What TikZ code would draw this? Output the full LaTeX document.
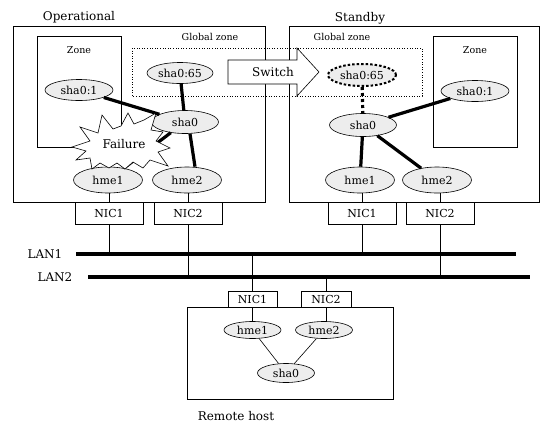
\documentclass[tikz,border=0pt]{standalone}
\usepackage{fontspec}
\setmainfont{DejaVu Serif}
\usetikzlibrary{shapes.geometric}

\begin{document}
\begin{tikzpicture}[x=1pt, y=-1pt, line width=0.6pt,
    every node/.style={font=\fontsize{11}{13}\selectfont},
    iface/.style={ellipse, draw, fill=black!7, inner sep=0pt,
        minimum width=67pt, minimum height=23pt},
    hface/.style={iface, minimum width=69pt, minimum height=26pt},
    rface/.style={ellipse, draw, fill=black!7, inner sep=0pt,
        minimum width=57pt, minimum height=17pt},
    nicbox/.style={draw, fill=white, inner sep=0pt,
        minimum width=68pt, minimum height=22pt},
    rnicbox/.style={draw, fill=white, inner sep=0pt,
        minimum width=49pt, minimum height=16pt},
    biglink/.style={line width=3.2pt},
    lan/.style={line width=4pt},
    tag/.style={font=\fontsize{12}{14}\selectfont},
    smalltag/.style={font=\fontsize{9.5}{11}\selectfont}]
    \useasboundingbox (0,0) rectangle (557,429);

    % host frames and zones
    \draw (13,26) rectangle (265,202);
    \draw (289,26) rectangle (539,202);
    \draw (37,36) rectangle (121,147);
    \draw (433,36) rectangle (517,147);
    \draw (187,307) rectangle (393,399);
    \draw[dotted] (132,48) rectangle (422,96);

    \node[tag] (opname) at (79,17) {Operational};
    \node[tag] (sbname) at (360,18) {Standby};
    \node[tag] (rhname) at (236,416) {Remote host};
    \node[smalltag] (gzL) at (210,37) {Global zone};
    \node[smalltag] (gzR) at (342,37) {Global zone};
    \node[smalltag] (zoneL) at (79,50) {Zone};
    \node[smalltag] (zoneR) at (475,50) {Zone};

    % operational node
    \node[iface, minimum width=66pt, minimum height=21pt] (vipL) at (180,73) {sha0:65};
    \node[iface, minimum width=68pt, minimum height=21pt] (zipL) at (79,90) {sha0:1};
    \node[iface] (shaL) at (185,122) {sha0};
    \node[hface] (hmeaL) at (108,180) {hme1};
    \node[hface] (hmebL) at (187,180) {hme2};
    \node[nicbox] (nicaL) at (109,213) {NIC1};
    \node[nicbox] (nicbL) at (188,213) {NIC2};
    \draw[biglink] (zipL) -- (shaL);
    \draw[biglink] (vipL) -- (shaL);
    \draw[biglink] (hmeaL) -- (shaL);
    \draw[biglink] ([xshift=8pt]hmebL.north) -- ([xshift=5pt]shaL.south);
    \draw (nicaL.north) -- (nicaL.north |- hmeaL.south);
    \draw (nicbL.north) -- (nicbL.north |- hmebL.south);

    % standby node
    \node[iface, minimum width=68pt, minimum height=22pt,
        dash pattern=on 2.5pt off 2pt, line width=2pt] (vipR) at (362,75) {sha0:65};
    \node[iface, minimum width=68pt, minimum height=21pt] (zipR) at (475,91) {sha0:1};
    \node[iface] (shaR) at (363,125) {sha0};
    \node[hface] (hmeaR) at (360,180) {hme1};
    \node[hface] (hmebR) at (437,180) {hme2};
    \node[nicbox] (nicaR) at (362,213) {NIC1};
    \node[nicbox] (nicbR) at (440,213) {NIC2};
    \draw[biglink, dash pattern=on 3pt off 3pt] (vipR) -- (shaR);
    \draw[biglink] (shaR) -- (zipR);
    \draw[biglink] (shaR) -- (hmeaR);
    \draw[biglink] (shaR) -- (hmebR);
    \draw (nicaR.north) -- (nicaR.north |- hmeaR.south);
    \draw (nicbR.north) -- (nicbR.north |- hmebR.south);

    % switch arrow
    \draw[fill=white] (228,60) -- (297,60) -- (297,48) -- (319,72)
        -- (297,96) -- (297,84) -- (228,84) -- cycle;
    \node[tag] (switch) at (273,72) {Switch};

    % failure burst
    \draw[fill=white] (72,147) -- (90,141) -- (80,127) -- (98,133) -- (102,115)
        -- (113,129) -- (121,126) -- (128,113) -- (134,124) -- (144,120)
        -- (156,113) -- (151,130) -- (163,132) -- (156,141) -- (170,148)
        -- (158,152) -- (168,166) -- (150,160) -- (143,168) -- (133,162)
        -- (125,169) -- (117,163) -- (109,168) -- (100,163) -- (92,169)
        -- (90,158) -- (76,160) -- (86,151) -- cycle;
    \node[tag] (fail) at (124,144) {Failure};

    % LANs
    \coordinate (lanAw) at (76,254);
    \coordinate (lanAe) at (516,254);
    \coordinate (lanBw) at (88,277);
    \coordinate (lanBe) at (530,277);
    \node[tag] (lanAname) at (45,254) {LAN1};
    \node[tag] (lanBname) at (55,277) {LAN2};
    \draw (nicaL.south) -- (nicaL.south |- lanAw);
    \draw (nicbL.south) -- (nicbL.south |- lanBw);
    \draw (nicaR.south) -- (nicaR.south |- lanAw);
    \draw (nicbR.south) -- (nicbR.south |- lanBw);

    % remote host
    \node[rnicbox] (nicaX) at (252.5,299) {NIC1};
    \node[rnicbox, minimum width=50pt] (nicbX) at (326,299) {NIC2};
    \node[rface] (hmeaX) at (252.5,330) {hme1};
    \node[rface] (hmebX) at (324,330) {hme2};
    \node[rface, minimum height=19pt] (shaX) at (286,373) {sha0};
    \draw (nicaX.north) -- (nicaX.north |- lanAw);
    \draw (nicbX.north) -- (nicbX.north |- lanBw);
    \draw (nicaX.south) -- (hmeaX.north);
    \draw (nicbX.south) -- (nicbX.south |- hmebX.north);
    \draw (hmeaX) -- (shaX);
    \draw (hmebX) -- (shaX);

    \draw[lan] (lanAw) -- (lanAe);
    \draw[lan] (lanBw) -- (lanBe);
\end{tikzpicture}
\end{document}
